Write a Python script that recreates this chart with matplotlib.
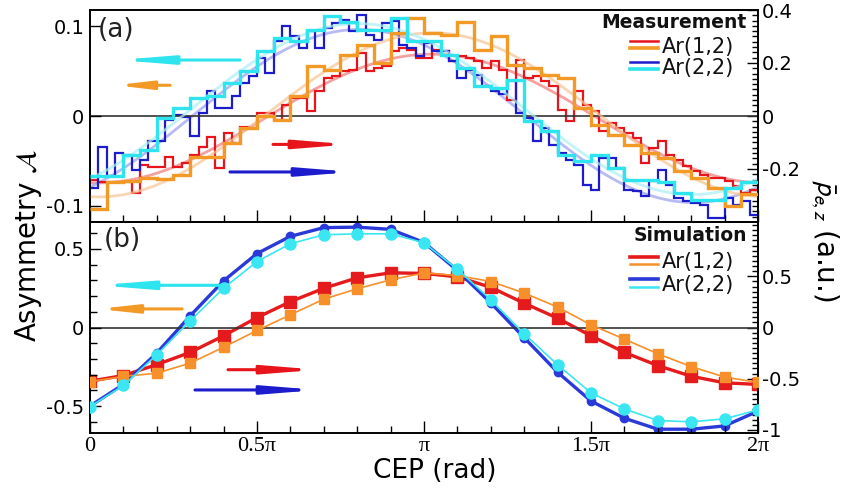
import numpy as np
import matplotlib
matplotlib.use("Agg")
import matplotlib.pyplot as plt
from matplotlib.ticker import MultipleLocator, FixedLocator

plt.rcParams["font.family"] = ["DejaVu Sans"]
plt.rcParams["mathtext.fontset"] = "stix"
plt.rcParams["axes.unicode_minus"] = False

# ---- measurement (top panel), asymmetry on left axis, 40 bins ----
cyan_meas = [-0.067, -0.067, -0.043, -0.038, -0.002, 0.009, 0.020, 0.022, 0.037, 0.050,
             0.072, 0.087, 0.083, 0.096, 0.111, 0.105, 0.096, 0.096, 0.109, 0.083,
             0.083, 0.068, 0.053, 0.033, 0.031, 0.040, -0.006, -0.017, -0.043, -0.050,
             -0.043, -0.058, -0.071, -0.071, -0.073, -0.086, -0.093, -0.093, -0.080, -0.074]
orange_meas = [-0.104, -0.074, -0.072, -0.069, -0.070, -0.066, -0.046, -0.046, -0.030, -0.013,
               0.000, -0.004, 0.022, 0.056, 0.051, 0.068, 0.079, 0.059, 0.092, 0.109,
               0.092, 0.090, 0.105, 0.074, 0.089, 0.057, 0.053, 0.046, 0.042, 0.009,
               -0.010, -0.021, -0.032, -0.041, -0.047, -0.061, -0.069, -0.080, -0.100, -0.087]

# ---- measurement, mean momentum on right axis, 80 bins ----
blue_meas = [-0.272, -0.117, -0.226, -0.140, -0.147, -0.204, -0.166, -0.094, -0.094, -0.015,
             0.004, -0.004, -0.075, 0.011, 0.094, 0.030, 0.030, 0.075, 0.125, 0.151,
             0.219, 0.162, 0.283, 0.340, 0.302, 0.257, 0.321, 0.257, 0.332, 0.351,
             0.362, 0.321, 0.381, 0.306, 0.287, 0.351, 0.358, 0.268, 0.257, 0.226,
             0.275, 0.245, 0.245, 0.208, 0.143, 0.174, 0.155, 0.113, 0.094, 0.083,
             0.132, 0.011, -0.008, -0.094, -0.045, -0.109, -0.140, -0.166, -0.185, -0.260,
             -0.279, -0.158, -0.158, -0.196, -0.279, -0.283, -0.302, -0.245, -0.204, -0.260,
             -0.309, -0.321, -0.328, -0.336, -0.385, -0.385, -0.309, -0.336, -0.321, -0.374]
red_meas = [-0.242, -0.249, -0.249, -0.249, -0.249, -0.291, -0.185, -0.192, -0.192, -0.155,
            -0.192, -0.177, -0.147, -0.117, -0.079, -0.196, -0.064, -0.102, -0.042, -0.045,
            0.011, 0.011, -0.015, 0.042, 0.068, 0.068, 0.019, 0.094, 0.143, 0.151,
            0.170, 0.174, 0.238, 0.170, 0.181, 0.189, 0.245, 0.257, 0.249, 0.219,
            0.219, 0.249, 0.245, 0.208, 0.226, 0.219, 0.208, 0.181, 0.208, 0.174,
            0.060, 0.211, 0.143, 0.151, 0.132, 0.113, 0.023, -0.019, 0.094, 0.042,
            0.019, -0.057, -0.026, -0.045, -0.064, -0.083, -0.177, -0.121, -0.094, -0.147,
            -0.166, -0.189, -0.208, -0.223, -0.234, -0.234, -0.245, -0.264, -0.291, -0.279]

# ---- simulation (bottom panel), CEP = 0, 0.1pi, ..., 2pi ----
cep_sim = np.arange(21) * 0.1 * np.pi
cyan_sim = [-0.502, -0.368, -0.173, 0.043, 0.250, 0.419, 0.532, 0.589, 0.595, 0.595, 0.538,
            0.370, 0.176, -0.040, -0.237, -0.415, -0.517, -0.591, -0.599, -0.580, -0.523]
orange_sim = [-0.343, -0.311, -0.290, -0.226, -0.125, -0.019, 0.081, 0.180, 0.246, 0.303, 0.346,
              0.330, 0.292, 0.219, 0.130, 0.017, -0.074, -0.167, -0.248, -0.315, -0.349]
blue_sim = [-0.767, -0.556, -0.249, 0.114, 0.456, 0.722, 0.890, 0.975, 0.980, 0.958, 0.830,
            0.557, 0.240, -0.100, -0.437, -0.718, -0.886, -0.993, -0.993, -0.961, -0.816]
red_sim = [-0.524, -0.469, -0.362, -0.243, -0.081, 0.097, 0.252, 0.383, 0.485, 0.534, 0.528,
           0.495, 0.392, 0.237, 0.091, -0.081, -0.243, -0.372, -0.476, -0.540, -0.556]

x_ticks = [0, 0.5 * np.pi, np.pi, 1.5 * np.pi, 2 * np.pi]
x_ticklabels = ["0", "0.5π", "π", "1.5π", "2π"]

RED, ORANGE, BLUE, CYAN = "#e8141c", "#f39a26", "#1c1ccc", "#2ee4ee"
RED_S, ORANGE_S, BLUE_S, CYAN_S = "#e41a1c", "#f7902a", "#2a3ad8", "#3ae6f2"


def sine_fit(values):
    # least squares a + b sin + c cos through bin centres
    n = len(values)
    edges = np.linspace(0, 2 * np.pi, n + 1)
    c = 0.5 * (edges[1:] + edges[:-1])
    M = np.column_stack([np.ones(n), np.sin(c), np.cos(c)])
    coef = np.linalg.lstsq(M, np.array(values), rcond=None)[0]
    t = np.linspace(0, 2 * np.pi, 300)
    return t, coef[0] + coef[1] * np.sin(t) + coef[2] * np.cos(t)


def arrow(ax, x0, x1, y, color, hl=3.0, hw=0.24, lw=2.2):
    ax.annotate("", xy=(x1, y), xytext=(x0, y), xycoords="axes fraction",
                arrowprops=dict(arrowstyle="-|>,head_length=%g,head_width=%g" % (hl, hw),
                                color=color, lw=lw, shrinkA=0, shrinkB=0), zorder=6)


def style_x(ax, labels):
    ax.set_xlim(0, 2 * np.pi)
    ax.xaxis.set_major_locator(FixedLocator(x_ticks))
    ax.xaxis.set_minor_locator(MultipleLocator(0.1 * np.pi))
    ax.tick_params(axis="x", which="both", direction="in", top=False, bottom=True)
    ax.tick_params(axis="x", which="major", length=9, width=1)
    ax.tick_params(axis="x", which="minor", length=5, width=1)
    if labels:
        ax.set_xticklabels(x_ticklabels, fontfamily=["Liberation Serif", "DejaVu Serif"], fontsize=16)
        ax.tick_params(axis="x", which="major", pad=3)
    else:
        ax.tick_params(axis="x", labelbottom=False)


fig = plt.figure(figsize=(8.45, 4.9), dpi=100)
L, W = 90 / 845, 668 / 845
ax_a = fig.add_axes([L, 1 - 222 / 490, W, 212 / 490])
ax_b = fig.add_axes([L, 1 - 433 / 490, W, 211 / 490])

for ax, lim_l, lim_r, lt, rt, rminor in [
        (ax_a, 0.118, 0.40, [-0.1, 0, 0.1], [-0.2, 0, 0.2, 0.4], 0.02),
        (ax_b, 0.67, 1.03, [-0.5, 0, 0.5], [-1, -0.5, 0, 0.5], 0.05)]:
    axr = ax.twinx()
    axr.set_zorder(ax.get_zorder() - 1)
    axr.patch.set_visible(True)
    axr.patch.set_facecolor("white")
    ax.patch.set_visible(False)
    ax.set_ylim(-lim_l, lim_l)
    axr.set_ylim(-lim_r, lim_r)
    ax.yaxis.set_major_locator(FixedLocator(lt))
    ax.set_yticklabels([("%g" % v) for v in lt], fontsize=14)
    axr.yaxis.set_major_locator(FixedLocator(rt))
    axr.set_yticklabels([("%g" % v) for v in rt], fontsize=14)
    axr.yaxis.set_minor_locator(MultipleLocator(rminor))
    ax.tick_params(axis="y", which="both", direction="in", left=True, right=False)
    ax.tick_params(axis="y", which="major", length=8, width=1, pad=4)
    axr.tick_params(axis="y", which="both", direction="in", right=True, left=False)
    axr.tick_params(axis="y", which="major", length=8, width=1, pad=3)
    axr.tick_params(axis="y", which="minor", length=4, width=1)
    for a in (ax, axr):
        for s in a.spines.values():
            s.set_linewidth(1.2)
    ax.axhline(0, color="#333333", lw=1.2, zorder=1)
    ax.axr = axr

ax_b.yaxis.set_minor_locator(MultipleLocator(0.1))
ax_b.tick_params(axis="y", which="minor", direction="in", length=5, width=1)

style_x(ax_a, False)
style_x(ax_b, True)

# ---- top panel ----
axr = ax_a.axr
e80 = np.linspace(0, 2 * np.pi, 81)
e40 = np.linspace(0, 2 * np.pi, 41)
for vals, col in [(red_meas, "#f08a8a"), (blue_meas, "#a6aaee")]:
    t, f = sine_fit(vals)
    axr.plot(t, f, color=col, lw=2, alpha=0.8, zorder=1)
for vals, col in [(orange_meas, "#f8c494"), (cyan_meas, "#a8eef6")]:
    t, f = sine_fit(vals)
    ax_a.plot(t, f, color=col, lw=2, alpha=0.7, zorder=1.5)
axr.stairs(red_meas, e80, baseline=None, color=RED, lw=1.6, zorder=2)
axr.stairs(blue_meas, e80, baseline=None, color=BLUE, lw=1.6, zorder=2)
ax_a.stairs(orange_meas, e40, baseline=None, color=ORANGE, lw=2.4, zorder=3)
ax_a.stairs(cyan_meas, e40, baseline=None, color=CYAN, lw=2.4, zorder=3)

ax_a.text(0.011, 0.905, "(a)", transform=ax_a.transAxes, fontsize=19, va="center", ha="left", color="#222222")
ax_a.text(0.983, 0.943, "Measurement", transform=ax_a.transAxes, fontsize=13.5,
          fontweight="bold", ha="right", va="center", color="#111111")
for fy, txt in [(0.825, "Ar(1,2)"), (0.726, "Ar(2,2)")]:
    ax_a.text(0.856, fy, txt, transform=ax_a.transAxes, fontsize=15, ha="left", va="center", color="#111111")
for fy, col, lw in [(0.855, RED, 1.8), (0.822, ORANGE, 2.6), (0.753, BLUE, 1.8), (0.720, CYAN, 2.6)]:
    ax_a.plot([0.808, 0.850], [fy, fy], transform=ax_a.transAxes, color=col, lw=lw, clip_on=False)

arrow(ax_a, 0.2246, 0.042, 0.764, CYAN)
arrow(ax_a, 0.1200, 0.039, 0.645, ORANGE, hl=2.0)
arrow(ax_a, 0.2740, 0.3892, 0.366, RED)
arrow(ax_a, 0.2096, 0.3937, 0.236, BLUE)

# ---- bottom panel ----
axr = ax_b.axr
axr.plot(cep_sim, red_sim, color=RED_S, lw=2.4, marker="s", ms=8, zorder=2)
axr.plot(cep_sim, blue_sim, color=BLUE_S, lw=2.4, marker="o", ms=6, zorder=2)
ax_b.plot(cep_sim, orange_sim, color=ORANGE_S, lw=1.2, marker="s", ms=7.5, zorder=3)
ax_b.plot(cep_sim, cyan_sim, color=CYAN_S, lw=1.2, marker="o", ms=8, zorder=3)

ax_b.text(0.020, 0.915, "(b)", transform=ax_b.transAxes, fontsize=19, va="center", ha="left", color="#222222")
ax_b.text(0.983, 0.934, "Simulation", transform=ax_b.transAxes, fontsize=13.5,
          fontweight="bold", ha="right", va="center", color="#111111")
for fy, txt in [(0.810, "Ar(1,2)"), (0.701, "Ar(2,2)")]:
    ax_b.text(0.856, fy, txt, transform=ax_b.transAxes, fontsize=15, ha="left", va="center", color="#111111")
for fy, col, lw in [(0.8355, RED_S, 2.6), (0.801, ORANGE_S, 1.8), (0.730, BLUE_S, 2.6), (0.692, CYAN_S, 1.8)]:
    ax_b.plot([0.808, 0.850], [fy, fy], transform=ax_b.transAxes, color=col, lw=lw, clip_on=False)

arrow(ax_b, 0.195, 0.012, 0.7, CYAN)
arrow(ax_b, 0.138, 0.012, 0.588, ORANGE, hl=2.2)
arrow(ax_b, 0.2066, 0.3413, 0.3, RED)
arrow(ax_b, 0.1572, 0.3413, 0.204, BLUE)

# ---- axis titles ----
fig.text(0.034, 0.5, r"Asymmetry $\mathcal{A}$", rotation=90, fontsize=20, ha="center", va="center")
fig.text(0.975, 0.51, r"$\bar{\mathsf{p}}_{\mathsf{e,z}}$ (a.u.)", rotation=270, fontsize=20,
         ha="center", va="center")
fig.text(0.515, 0.038, "CEP (rad)", fontsize=19, ha="center", va="center")

fig.savefig("out.png", dpi=100)
plt.close(fig)
